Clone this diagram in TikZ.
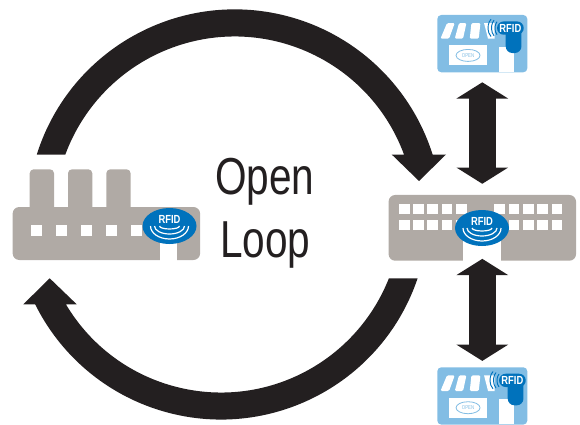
\documentclass[tikz,border=0pt]{standalone}
\usepackage{fontspec}
\usetikzlibrary{arrows.meta,shapes.geometric}
\newfontfamily\loopfont[FakeStretch=0.78]{Liberation Sans}
\newfontfamily\tagfont[FakeStretch=0.8]{Liberation Sans Bold}
\definecolor{loopblack}{RGB}{35,31,32}
\definecolor{plantgray}{RGB}{176,170,165}
\definecolor{tagblue}{RGB}{0,114,188}
\definecolor{shopblue}{RGB}{130,189,228}
\tikzset{
    plantbody/.style={fill=plantgray,rounded corners=3pt},
    plantwindow/.style={fill=white},
    buildingbox/.style={fill=plantgray,rounded corners=5pt,inner sep=0pt,draw=none},
    shopbox/.style={fill=shopblue,rounded corners=3pt,inner sep=0pt,minimum width=67.5pt,minimum height=43pt},
    tagoval/.style={ellipse,fill=tagblue,inner sep=0pt,minimum width=40.5pt,minimum height=27pt},
    tagtext/.style={text=white,font=\tagfont\fontsize{8.8}{9}\selectfont,inner sep=0pt},
    wave/.style={draw=white,line width=0.9pt},
    shopwave/.style={draw=tagblue,line width=0.7pt},
    looparrow/.style={fill=loopblack},
    swaparrow/.style={draw=loopblack,line width=20pt,
        {Triangle[length=12.2pt,width=38.3pt,fill=loopblack]}-{Triangle[length=12.2pt,width=38.3pt,fill=loopblack]}},
    looptext/.style={anchor=base west,inner sep=0pt,text=loopblack,font=\loopfont\fontsize{39}{41}\selectfont},
    % the white parts of a shop front, #1 moves the tag sideways
    shopdetail/.pic={
        \begin{scope}[yscale=-1]
        \fill[white,rounded corners=1pt] (3.4,24) -- (10,8.3) -- (17.7,8.3) -- (12,24) -- cycle;
        \fill[white,rounded corners=1pt] (17.7,24) -- (22,8.3) -- (29.4,8.3) -- (26,24) -- cycle;
        \fill[white,rounded corners=1pt] (32.7,24) -- (34.4,8.3) -- (43.4,8.3) -- (41.7,24) -- cycle;
        \fill[white] (51,24) -- (47,8.3) -- (57.7,8.3) -- (57.7,24) -- cycle;
        \fill[white] (12,30.7) rectangle (50,50.7);
        \fill[white] (62,32.3) rectangle (77,57.3);
        \node[ellipse,draw=shopblue,line width=0.6pt,minimum width=18pt,minimum height=9pt,inner sep=0pt] (-openoval) at (31,40.7) {};
        \node[inner sep=0pt,text=shopblue,font=\loopfont\fontsize{4.2}{5}\selectfont] (-open) at (31,40.7) {OPEN};
        \begin{scope}[xshift=#1]
            \draw[shopwave] (60,7) arc[start angle=240,end angle=120,x radius=4,y radius=7.5];
            \draw[shopwave] (57,5.5) arc[start angle=240,end angle=120,x radius=5,y radius=9];
            \draw[shopwave] (54,4.5) arc[start angle=240,end angle=120,x radius=6,y radius=10];
            \fill[tagblue,rounded corners=5pt] (60,6.7) rectangle (86.7,20);
            \fill[tagblue,rounded corners=5pt] (68.7,12) -- (84.4,12) -- (84.4,38.3) -- (68.7,38.3) -- cycle;
            \node[tagtext] (-rfid) at (73.3,13.4) {RFID};
        \end{scope}
        \end{scope}
    }
}
\begin{document}
\begin{tikzpicture}[x=0.75pt,y=0.75pt,yscale=-1,xscale=1]
    \useasboundingbox (0,0) rectangle (580,424);

    % Upper loop arrow
    \path[looparrow] (36.8,154.5) arc[start angle=197.5,end angle=342.5,radius=207.5] -- (446,154.5) -- (419,181) -- (391.7,154.5) -- (404,154.5) arc[start angle=339.74,end angle=200.26,radius=180.5] -- cycle;
    % Lower loop arrow
    \path[looparrow] (417.6,278.3) arc[start angle=18.63,end angle=153.6,radius=207.5] -- (23.3,304.3) -- (49.7,278.3) -- (76.7,304.3) -- (65.9,304.3) arc[start angle=149.25,end angle=21.55,radius=180.5] -- cycle;

    % Factory
    \foreach \chimney in {29.7,68,106.3}
        \path[plantbody] (\chimney,215) -- (\chimney,169.3) -- ({\chimney+24.3},169.3) -- ({\chimney+24.3},215) -- cycle;
    \node[buildingbox,minimum width=140.6pt,minimum height=39.75pt] (factory) at (106.35,233.5) {};
    \fill[white] (160,243) rectangle (176.7,262);
    \foreach \winx in {31,56,81,106,131}
        \path[plantwindow] (\winx,225) rectangle ({\winx+10.7},235.7);
    \node[tagoval] (factorytag) at (169.5,226) {};
    \node[tagtext] (factoryrfid) at (169.5,219.5) {RFID};
    \draw[wave] (159.5,226) arc[start angle=180,end angle=0,x radius=10,y radius=3];
    \draw[wave] (154.5,226) arc[start angle=180,end angle=0,x radius=15,y radius=8];
    \draw[wave] (150.5,226) arc[start angle=180,end angle=0,x radius=19,y radius=13];

    % Warehouse
    \node[buildingbox,minimum width=140.6pt,minimum height=49.3pt] (warehouse) at (482.3,227.85) {};
    \fill[white] (463.3,235) rectangle (500.7,262);
    \foreach \winx in {399,413.3,427.3,441.7,456,494.3,508.7,523,537.3,551.7}
        \foreach \winy in {203.7,219.7}
            \path[plantwindow] (\winx,\winy) rectangle ({\winx+10.7},{\winy+10.5});
    \node[tagoval] (warehousetag) at (482,228) {};
    \node[tagtext] (warehouserfid) at (482,221.5) {RFID};
    \draw[wave] (472,228) arc[start angle=180,end angle=0,x radius=10,y radius=3];
    \draw[wave] (467,228) arc[start angle=180,end angle=0,x radius=15,y radius=8];
    \draw[wave] (463,228) arc[start angle=180,end angle=0,x radius=19,y radius=13];

    % Shops
    \node[shopbox] (shoptop) at (482.3,43.65) {};
    \pic (st) at (shoptop.north west) {shopdetail=0};
    \node[shopbox] (shopbottom) at (482.3,395.95) {};
    \pic (sb) at (shopbottom.north west) {shopdetail=1.5};

    % Double arrows
    \draw[swaparrow,shorten <=7.3pt,shorten >=8.2pt] (shoptop.south) -- (warehouse.north);
    \draw[swaparrow,shorten <=-1.6pt,shorten >=4.6pt] (warehouse.south) -- (shopbottom.north);

    % Text Node
    \node[looptext] (labelopen) at (215,194.3) {Open};
    % Text Node
    \node[looptext] (labelloop) at (220,257.3) {Loop};
\end{tikzpicture}
\end{document}
